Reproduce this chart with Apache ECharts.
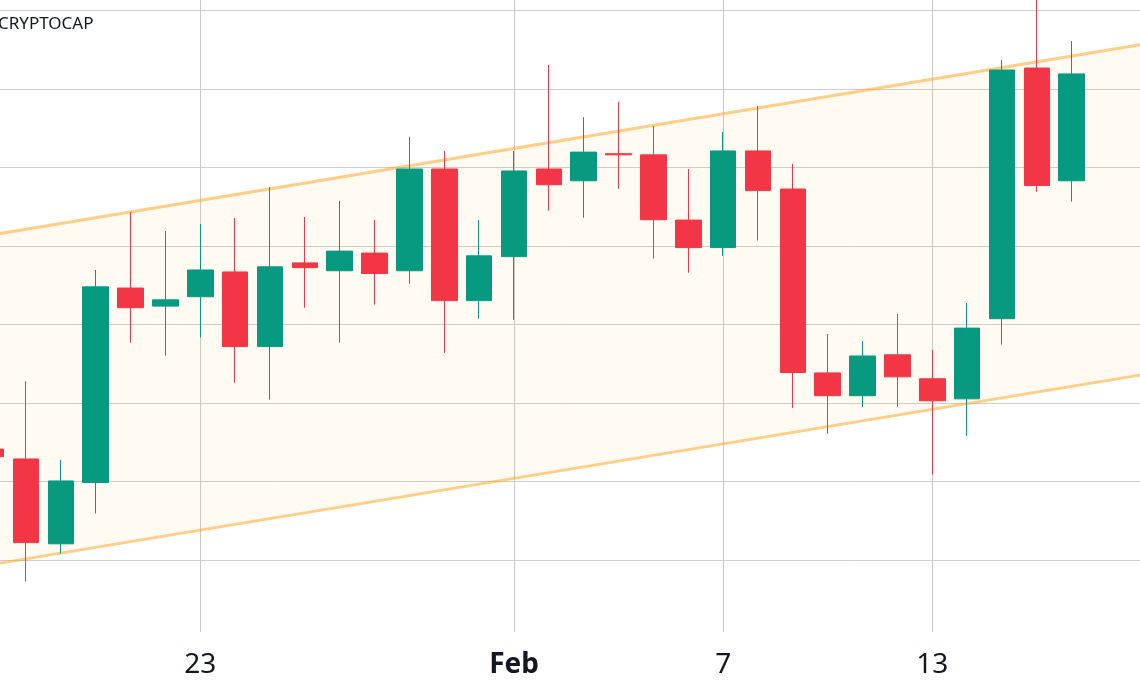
<!DOCTYPE html>
<html>
<head>
<meta charset="utf-8">
<script src="https://cdn.jsdelivr.net/npm/echarts@6/dist/echarts.min.js"></script>
<style>
  html, body { margin: 0; padding: 0; background: #fff; overflow: hidden; }
  /* the plot starts a little left of the window edge (first candle is cut) */
  #chart { position: absolute; left: -9px; top: 0; width: 1151px; height: 688px; }
</style>
</head>
<body>
<div id="chart"></div>
<script>
// daily candles, Jan 17 - Feb 19 (last two days empty)
var dates = [
  '2023-01-17', '2023-01-18', '2023-01-19', '2023-01-20', '2023-01-21', '2023-01-22',
  '2023-01-23', '2023-01-24', '2023-01-25', '2023-01-26', '2023-01-27', '2023-01-28',
  '2023-01-29', '2023-01-30', '2023-01-31', '2023-02-01', '2023-02-02', '2023-02-03',
  '2023-02-04', '2023-02-05', '2023-02-06', '2023-02-07', '2023-02-08', '2023-02-09',
  '2023-02-10', '2023-02-11', '2023-02-12', '2023-02-13', '2023-02-14', '2023-02-15',
  '2023-02-16', '2023-02-17', '2023-02-18', '2023-02-19'
];
var opens  = [1008.3, 1005.8, 984.2, 999.8, 1049.3, 1044.7, 1047.1, 1053.4, 1034.4, 1055.7, 1053.7, 1058.2,
              1053.7, 1079.6, 1046.1, 1057.3, 1079.6, 1076.6, 1083.5, 1083.2, 1066.6, 1059.6, 1084.2, 1074.5,
              1027.7, 1021.9, 1032.3, 1026.2, 1021.1, 1041.5, 1105.3, 1076.6];
var closes = [1006.4, 984.5, 1000.2, 1049.6, 1044.3, 1046.3, 1053.9, 1034.4, 1054.7, 1054.5, 1058.7, 1053.0,
              1079.6, 1046.1, 1057.5, 1079.1, 1075.6, 1083.9, 1083.2, 1066.7, 1059.6, 1084.2, 1074.1, 1027.8,
              1021.9, 1032.0, 1026.7, 1020.6, 1039.1, 1104.8, 1075.4, 1103.8];
var lows   = [1005.0, 974.6, 981.7, 991.9, 1035.4, 1032.1, 1036.7, 1025.2, 1020.9, 1044.3, 1035.4, 1045.1,
              1050.4, 1032.8, 1041.5, 1041.2, 1069.0, 1067.2, 1074.6, 1056.8, 1053.2, 1057.5, 1061.4, 1018.8,
              1012.2, 1019.0, 1019.1, 1001.8, 1011.7, 1034.9, 1073.8, 1071.3];
var highs  = [1010.6, 1025.6, 1005.5, 1053.9, 1068.6, 1063.8, 1065.6, 1067.1, 1075.0, 1067.4, 1071.5, 1066.6,
              1087.8, 1084.2, 1066.6, 1084.2, 1106.1, 1092.8, 1096.7, 1090.6, 1079.6, 1089.0, 1095.6, 1080.9,
              1037.6, 1035.8, 1042.7, 1033.5, 1045.5, 1107.4, 1123.4, 1112.2];

// parallel channel drawn on the chart
var channelDates = ['2023-01-17', '2023-02-19'];
var channelUpper = [1062.8, 1111.3];
var channelLower = [978.9, 1027.2];

// horizontal grid levels and dated x labels
var gridValues = [980, 1000, 1020, 1040, 1060, 1080, 1100, 1120];
var xTickDates = ['2023-01-23', '2023-02-01', '2023-02-07', '2023-02-13'];
var monthNames = ['Jan', 'Feb', 'Mar', 'Apr', 'May', 'Jun', 'Jul', 'Aug', 'Sep', 'Oct', 'Nov', 'Dec'];

var UP = '#089981';
var DOWN = '#F23645';

var candles = opens.map(function (o, i) {
  return [o, closes[i], lows[i], highs[i]];
});

function isTick(index, value) {
  return xTickDates.indexOf(value) >= 0;
}

var chart = echarts.init(document.getElementById('chart'));
chart.setOption({
  animation: false,
  backgroundColor: '#ffffff',
  title: {
    text: 'CRYPTOCAP',
    left: 7,
    top: 16,
    padding: 0,
    textStyle: {
      fontFamily: 'Noto Sans',
      fontSize: 17,
      fontWeight: 'normal',
      color: '#131722'
    }
  },
  grid: {
    left: 0.16,
    right: 0.54,
    top: 0,
    bottom: 56
  },
  xAxis: {
    type: 'category',
    data: dates,
    boundaryGap: false,
    axisLine: { show: false },
    axisTick: { show: false },
    axisLabel: {
      interval: isTick,
      margin: 19,
      fontFamily: 'Noto Sans',
      fontSize: 28,
      color: '#131722',
      formatter: function (v) {
        var d = new Date(v + 'T00:00:00');
        if (d.getDate() === 1) {
          return '{b|' + monthNames[d.getMonth()] + '}';
        }
        return String(d.getDate());
      },
      rich: {
        b: { fontFamily: 'Noto Sans', fontSize: 28, fontWeight: 'bold', color: '#131722' }
      }
    },
    splitLine: {
      show: true,
      interval: isTick,
      lineStyle: { color: '#c9c9c9', width: 1 }
    }
  },
  yAxis: {
    type: 'value',
    min: 961.75,
    max: 1122.62,
    splitNumber: 8,
    axisLine: { show: false },
    axisTick: { show: false, customValues: gridValues },
    axisLabel: { show: false, customValues: gridValues },
    splitLine: {
      show: true,
      lineStyle: { color: '#cecece', width: 1 }
    }
  },
  series: [
    {
      name: 'channel fill',
      type: 'custom',
      z: 1,
      silent: true,
      data: channelDates.map(function (d, i) { return [d, channelUpper[i], channelLower[i]]; }),
      encode: { x: 0, y: [1, 2] },
      renderItem: function (params, api) {
        if (params.dataIndex !== 0) return;
        var pts = [];
        var i;
        for (i = 0; i < channelDates.length; i++) {
          pts.push(api.coord([dates.indexOf(channelDates[i]), channelUpper[i]]));
        }
        for (i = channelDates.length - 1; i >= 0; i--) {
          pts.push(api.coord([dates.indexOf(channelDates[i]), channelLower[i]]));
        }
        return {
          type: 'polygon',
          shape: { points: pts },
          style: { fill: 'rgba(255, 152, 0, 0.05)' }
        };
      }
    },
    {
      name: 'channel top',
      type: 'line',
      z: 2,
      silent: true,
      symbol: 'none',
      data: channelDates.map(function (d, i) { return [d, channelUpper[i]]; }),
      lineStyle: { color: 'rgba(255, 160, 20, 0.5)', width: 3 }
    },
    {
      name: 'channel bottom',
      type: 'line',
      z: 2,
      silent: true,
      symbol: 'none',
      data: channelDates.map(function (d, i) { return [d, channelLower[i]]; }),
      lineStyle: { color: 'rgba(255, 160, 20, 0.5)', width: 3 }
    },
    {
      name: 'CRYPTOCAP',
      type: 'candlestick',
      z: 3,
      barWidth: 26,
      data: candles,
      itemStyle: {
        color: UP,
        color0: DOWN,
        borderColor: UP,
        borderColor0: DOWN,
        borderWidth: 1
      }
    }
  ]
});
</script>
</body>
</html>
